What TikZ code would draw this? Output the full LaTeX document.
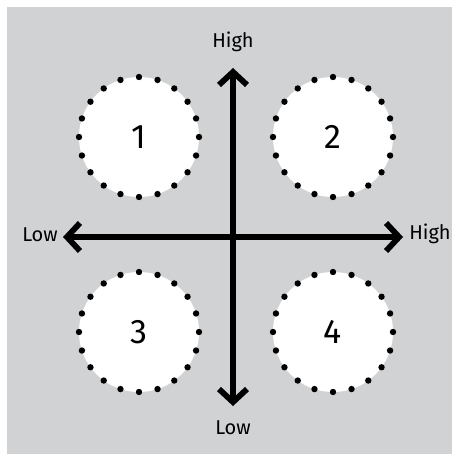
\documentclass[tikz,border=0pt]{standalone}
\usepackage{fontspec}
\setmainfont{Fira Sans}
\usetikzlibrary{arrows.meta}
\definecolor{fondo}{RGB}{209,210,212}

\begin{document}
\begin{tikzpicture}[x=0.5pt, y=-0.5pt, >={Straight Barb[length=6.5pt, width=14pt]}, line width=2.9pt,
  cuadrante/.style={circle, fill=white, minimum size=60pt, inner sep=0pt, font=\fontsize{17}{17}\selectfont},
  etiqueta/.style={font=\fontsize{10}{10}\selectfont}]
  % fondo gris con margen blanco arriba e izquierda
  \useasboundingbox (0,0) rectangle (452,454);
  \fill[fondo] (7,7) rectangle (452,454);
  % los cuatro cuadrantes
  \node[cuadrante] (q1) at (139,137) {1};
  \node[cuadrante] (q2) at (333,137) {2};
  \node[cuadrante] (q3) at (139,332) {3};
  \node[cuadrante] (q4) at (333,332) {4};
  % puntos alrededor de cada circulo
  \foreach \q in {q1,q2,q3,q4}
    \foreach \a in {0,18,...,342}
      \fill (\q.center) ++(\a:30pt) circle (1.6pt);
  % ejes
  \coordinate (arriba) at (233,68); \coordinate (abajo) at (233,406);
  \coordinate (izq) at (63,237); \coordinate (der) at (403,237);
  \draw[<->] (izq) -- (der);
  \draw[<->] (abajo) -- (arriba);
  \node[etiqueta] (altoY) at (233,42) {High};
  \node[etiqueta] (bajoY) at (233,428) {Low};
  \node[etiqueta] (bajoX) at (40,235) {Low};
  \node[etiqueta] (altoX) at (430,234) {High};
\end{tikzpicture}
\end{document}
